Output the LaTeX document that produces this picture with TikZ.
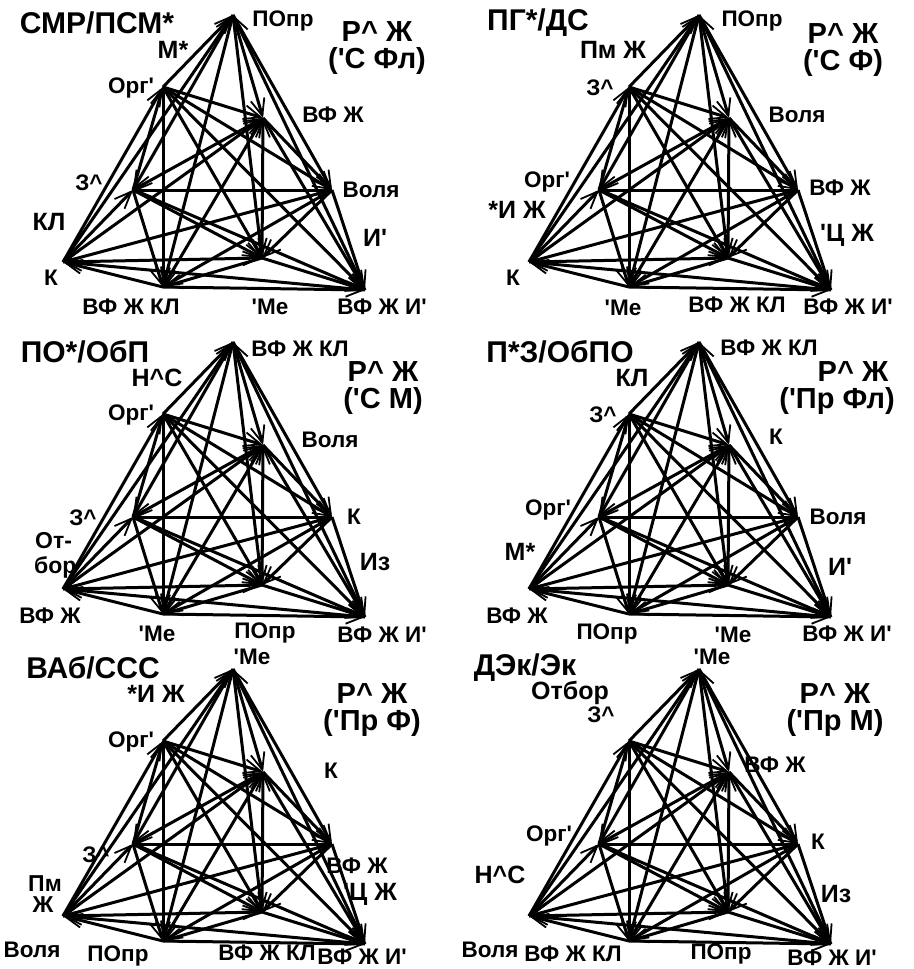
\documentclass[tikz,border=0pt]{standalone}
\usepackage{fontspec}
\setmainfont{Liberation Sans}
\usetikzlibrary{arrows.meta}
\newcommand\ap{\textquotesingle}
\newcommand\ca{\textasciicircum}
\tikzset{
  edge/.style={line width=3pt,-{Straight Barb[length=17pt,width=14pt,line width=1.8pt]}},
  lab/.style={font=\fontsize{22.5}{22.5}\selectfont\bfseries,inner sep=0pt},
  elab/.style={font=\fontsize{25}{25}\selectfont\bfseries,inner sep=0pt},
  elabs/.style={font=\fontsize{23}{23}\selectfont\bfseries,inner sep=0pt},
  ttl/.style={font=\fontsize{30}{30}\selectfont\bfseries,inner sep=0pt},
  sub/.style={font=\fontsize{29}{29}\selectfont\bfseries,inner sep=0pt},
}
\newcommand\drawgraph[3]{%
  \begin{scope}[shift={(#1,#2)}]
    \coordinate (#3T) at (233,15);
    \coordinate (#3O) at (163,87);
    \coordinate (#3V) at (263,118);
    \coordinate (#3Z) at (133,190);
    \coordinate (#3W) at (332,190);
    \coordinate (#3K) at (63,262);
    \coordinate (#3B) at (163,287);
    \coordinate (#3M) at (262,258);
    \coordinate (#3R) at (365,290);
  \end{scope}
  \foreach \s/\t in {T/V,T/W,T/Z,T/M,T/B,O/T,K/T,R/T,
                     O/V,O/W,O/M,O/B,O/R,K/O,Z/O,
                     Z/V,B/V,K/V,M/V,V/W,V/R,
                     W/Z,K/Z,Z/B,Z/M,Z/R,
                     W/K,W/B,W/M,W/R,
                     K/M,R/K,B/K,M/B,B/R,M/R}
    \draw[edge] (#3\s) -- (#3\t);
}
\begin{document}
\begin{tikzpicture}[x=1pt,y=-1pt]
\useasboundingbox[fill=white] (0,0) rectangle (913,969);
\drawgraph{0}{0}{a}
\drawgraph{466}{0}{b}
\drawgraph{0}{327}{c}
\drawgraph{466}{327}{d}
\drawgraph{0}{654}{e}
\drawgraph{466}{654}{f}
% panel 1
\node[ttl] (a1) at (97,23) {СМР/ПСМ*};
\node[lab] (a2) at (283,21) {ПОпр};
\node[sub] (a3) at (377,32) {Р\ca{} Ж};
\node[sub] (a4) at (377,61) {(\ap С Фл)};
\node[elab] (a5) at (173,50) {М*};
\node[lab] (a6) at (131,88) {Орг\ap};
\node[lab] (a7) at (333,115) {ВФ Ж};
\node[lab] (a8) at (89,183) {З\ca};
\node[lab] (a9) at (371,190) {Воля};
\node[elab] (a10) at (49,222) {КЛ};
\node[elab] (a11) at (375,238) {И\ap};
\node[lab] (a12) at (51,278) {К};
\node[lab] (a13) at (131,307) {ВФ Ж КЛ};
\node[lab] (a14) at (270,307) {\ap Ме};
\node[lab] (a15) at (382,307) {ВФ Ж И\ap};
% panel 2
\node[ttl] (b1) at (538,23) {ПГ*/ДС};
\node[lab] (b2) at (752,21) {ПОпр};
\node[sub] (b3) at (843,34) {Р\ca{} Ж};
\node[sub] (b4) at (843,63) {(\ap С Ф)};
\node[elab] (b5) at (613,50) {Пм Ж};
\node[lab] (b6) at (600,88) {З\ca};
\node[lab] (b7) at (797,115) {Воля};
\node[lab] (b8) at (547,182) {Орг\ap};
\node[lab] (b9) at (840,188) {ВФ Ж};
\node[elab] (b10) at (517,210) {*И Ж};
\node[elab] (b11) at (847,235) {\ap Ц Ж};
\node[lab] (b12) at (513,278) {К};
\node[lab] (b13) at (623,308) {\ap Ме};
\node[lab] (b14) at (737,305) {ВФ Ж КЛ};
\node[lab] (b15) at (848,307) {ВФ Ж И\ap};
% panel 3
\node[ttl] (c1) at (85,352) {ПО*/ОбП};
\node[lab] (c2) at (300,349) {ВФ Ж КЛ};
\node[sub] (c3) at (383,372) {Р\ca{} Ж};
\node[sub] (c4) at (383,401) {(\ap С М)};
\node[elab] (c5) at (157,378) {Н\ca С};
\node[lab] (c6) at (131,415) {Орг\ap};
\node[lab] (c7) at (330,440) {Воля};
\node[lab] (c8) at (83,518) {З\ca};
\node[lab] (c9) at (354,517) {К};
\node[elabs,anchor=west] (c10) at (35,541) {От-};
\node[elabs,anchor=west] (c11) at (34,567) {бор};
\node[elab] (c12) at (375,562) {Из};
\node[lab] (c13) at (50,616) {ВФ Ж};
\node[lab] (c14) at (157,634) {\ap Ме};
\node[lab] (c15) at (265,633) {ПОпр};
\node[lab] (c16) at (382,635) {ВФ Ж И\ap};
% panel 4
\node[ttl] (d1) at (560,352) {П*З/ОбПО};
\node[lab] (d2) at (769,348) {ВФ Ж КЛ};
\node[sub] (d3) at (853,372) {Р\ca{} Ж};
\node[sub] (d4) at (837,401) {(\ap Пр Фл)};
\node[elab] (d5) at (632,378) {КЛ};
\node[lab] (d6) at (603,415) {З\ca};
\node[lab] (d7) at (776,437) {К};
\node[lab] (d8) at (548,510) {Орг\ap};
\node[lab] (d9) at (838,517) {Воля};
\node[elab] (d10) at (520,552) {М*};
\node[elab] (d11) at (840,567) {И\ap};
\node[lab] (d12) at (517,616) {ВФ Ж};
\node[lab] (d13) at (607,634) {ПОпр};
\node[lab] (d14) at (733,635) {\ap Ме};
\node[lab] (d15) at (847,634) {ВФ Ж И\ap};
% panel 5
\node[ttl] (e1) at (93,668) {ВАб/ССС};
\node[lab] (e2) at (252,657) {\ap Ме};
\node[elab] (e3) at (156,694) {*И Ж};
\node[sub] (e4) at (372,694) {Р\ca{} Ж};
\node[sub] (e5) at (372,723) {(\ap Пр Ф)};
\node[lab] (e6) at (131,742) {Орг\ap};
\node[lab] (e7) at (331,771) {К};
\node[lab] (e8) at (96,855) {З\ca};
\node[lab] (e9) at (357,866) {ВФ Ж};
\node[elabs] (e10) at (45,884) {Пм};
\node[elabs] (e11) at (43,905) {Ж};
\node[elab] (e12) at (370,894) {\ap Ц Ж};
\node[lab] (e13) at (32,950) {Воля};
\node[lab] (e14) at (118,956) {ПОпр};
\node[lab] (e15) at (267,953) {ВФ Ж КЛ};
\node[lab] (e16) at (362,957) {ВФ Ж И\ap};
% panel 6
\node[ttl] (f1) at (525,668) {ДЭк/Эк};
\node[lab] (f2) at (712,657) {\ap Ме};
\node[elab] (f3) at (570,693) {Отбор};
\node[lab] (f4) at (601,715) {З\ca};
\node[sub] (f5) at (835,694) {Р\ca{} Ж};
\node[sub] (f6) at (835,723) {(\ap Пр М)};
\node[lab] (f7) at (775,765) {ВФ Ж};
\node[lab] (f8) at (549,836) {Орг\ap};
\node[lab] (f9) at (818,842) {К};
\node[elab] (f10) at (500,875) {Н\ca С};
\node[elab] (f11) at (836,894) {Из};
\node[lab] (f12) at (490,950) {Воля};
\node[lab] (f13) at (573,954) {ВФ Ж КЛ};
\node[lab] (f14) at (721,954) {ПОпр};
\node[lab] (f15) at (832,958) {ВФ Ж И\ap};
\end{tikzpicture}
\end{document}
